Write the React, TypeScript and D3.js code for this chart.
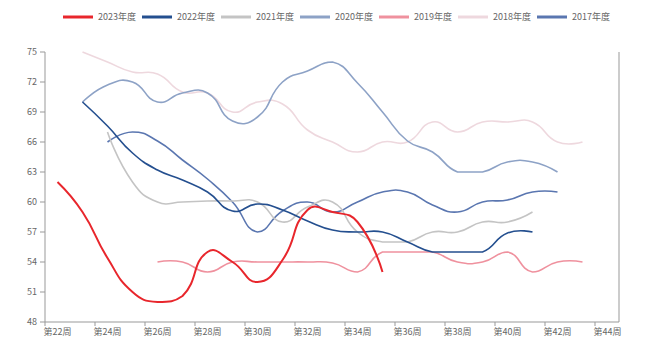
import React from "react";
import * as d3 from "d3";

const weeks: number[] = d3.range(22, 45);
const weekLabels: string[] = weeks.map((w) => `第${w}周`);
const yTicks: number[] = [48, 51, 54, 57, 60, 63, 66, 69, 72, 75];

const seriesNames: string[] = ["2023年度", "2022年度", "2021年度", "2020年度", "2019年度", "2018年度", "2017年度"];
const seriesColors: string[] = ["#e8262c", "#244f8f", "#c4c4c4", "#8da2c6", "#ef919e", "#eed8de", "#5a76b0"];

// values start at the given week
const s2023Start = 22;
const s2023: number[] = [62, 59, 54.4, 51.0, 50.0, 50.6, 55.0, 54.0, 52.0, 54.2, 59.2, 59.0, 58.0, 53.0];
const s2022Start = 23;
const s2022: number[] = [70, 67.6, 64.9, 63.2, 62.2, 61.0, 59.1, 59.8, 59.2, 58.1, 57.2, 57.0, 57.0, 56.0, 55.0, 55.0, 55.0, 56.9, 57.0];
const s2021Start = 24;
const s2021: number[] = [67.0, 62.0, 60.0, 60.0, 60.1, 60.1, 60.0, 58.0, 59.5, 60.0, 57.0, 56.0, 56.0, 57.0, 57.0, 58.0, 58.0, 59.0];
const s2020Start = 23;
const s2020: number[] = [70, 71.7, 72.0, 70.0, 70.9, 70.9, 68.1, 68.5, 72.0, 73.1, 74.0, 71.9, 69.0, 66.1, 65.0, 63.0, 63.0, 64.0, 64.0, 63.0];
const s2019Start = 26;
const s2019: number[] = [54.0, 54.0, 53.0, 54.0, 54.0, 54.0, 54.0, 53.9, 53.0, 55.0, 55.0, 55.0, 54.0, 54.0, 55.0, 53.0, 54.0, 54.0];
const s2018Start = 23;
const s2018: number[] = [75, 74.0, 73.0, 72.8, 71.0, 70.9, 69.0, 70.0, 69.8, 67.2, 66.0, 65.0, 66.0, 66.0, 68.0, 67.0, 68.0, 68.0, 68.0, 66.0, 66.0];
const s2017Start = 24;
const s2017: number[] = [66.0, 67.0, 66.1, 64.2, 62.3, 60.0, 57.0, 59.1, 60.0, 59.0, 60.0, 61.0, 61.0, 59.7, 59.0, 60.0, 60.2, 61.0, 61.0];

const seriesData: number[][] = [s2023, s2022, s2021, s2020, s2019, s2018, s2017];
const seriesStarts: number[] = [s2023Start, s2022Start, s2021Start, s2020Start, s2019Start, s2018Start, s2017Start];

// ECharts-style smooth bezier (smooth = 0.5, control points clamped to series bounding box)
function smoothPath(pts: [number, number][], smooth = 0.5): string {
  const p = d3.path();
  const n = pts.length;
  const minX = d3.min(pts, (d) => d[0]) as number;
  const maxX = d3.max(pts, (d) => d[0]) as number;
  const minY = d3.min(pts, (d) => d[1]) as number;
  const maxY = d3.max(pts, (d) => d[1]) as number;
  const cx = (v: number) => Math.max(minX, Math.min(maxX, v));
  const cy = (v: number) => Math.max(minY, Math.min(maxY, v));
  let cp0x = pts[0][0], cp0y = pts[0][1];
  p.moveTo(pts[0][0], pts[0][1]);
  for (let i = 1; i < n; i++) {
    const [x, y] = pts[i];
    const [px, py] = pts[i - 1];
    let cp1x = x, cp1y = y;
    let vx = 0, vy = 0, ratio = 0.5;
    if (i < n - 1) {
      const [nx, ny] = pts[i + 1];
      vx = nx - px;
      vy = ny - py;
      const lenPrev = Math.hypot(x - px, y - py);
      const lenNext = Math.hypot(nx - x, ny - y);
      ratio = lenNext / (lenNext + lenPrev);
      cp1x = x - vx * smooth * (1 - ratio);
      cp1y = y - vy * smooth * (1 - ratio);
    }
    p.bezierCurveTo(cx(cp0x), cy(cp0y), cx(cp1x), cy(cp1y), x, y);
    cp0x = x + vx * smooth * ratio;
    cp0y = y + vy * smooth * ratio;
  }
  return p.toString();
}

export default function App() {
  const W = 645;
  const H = 344;
  const left = 45;
  const right = 620;
  const top = 52;
  const bottom = 322;

  const x = d3.scaleBand<number>().domain(weeks).range([left, right]).paddingInner(0).paddingOuter(0);
  const y = d3.scaleLinear().domain([48, 75]).range([bottom, top]);
  const cx = (w: number) => (x(w) as number) + x.bandwidth() / 2;

  const font = "'Noto Sans CJK SC', 'Noto Sans', sans-serif";
  const axisColor = "#999";
  const textColor = "#666";

  const drawOrder = [6, 5, 4, 3, 2, 1, 0];

  return (
    <svg width={W} height={H} style={{ position: "absolute", left: 0, top: 0 }} fontFamily={font}>
      {/* legend */}
      {seriesNames.map((n, i) => {
        const lx = 63 + i * 79;
        return (
          <g key={n}>
            <line x1={lx} x2={lx + 30} y1={17} y2={17} stroke={seriesColors[i]} strokeWidth={3} />
            <text x={lx + 35} y={17} dy="0.35em" fontSize={9} fill={textColor}>
              {n}
            </text>
          </g>
        );
      })}

      {/* y axis */}
      <line x1={left} x2={left} y1={top} y2={bottom} stroke={axisColor} />
      {yTicks.map((t) => (
        <g key={t}>
          <line x1={left - 5} x2={left} y1={y(t)} y2={y(t)} stroke={axisColor} />
          <text x={left - 8} y={y(t)} dy="0.35em" textAnchor="end" fontSize={9} fill={textColor}>
            {t}
          </text>
        </g>
      ))}

      {/* x axis */}
      <line x1={left} x2={right - 1} y1={bottom} y2={bottom} stroke={axisColor} />
      <line x1={right - 1} x2={right - 1} y1={top} y2={bottom} stroke={axisColor} />
      {weeks.map((w, i) =>
        i % 2 === 0 ? (
          <g key={w}>
            <line x1={x(w) as number} x2={x(w) as number} y1={bottom} y2={bottom + 4} stroke={axisColor} />
            <text x={cx(w)} y={bottom + 10} dy="0.35em" textAnchor="middle" fontSize={9} fill={textColor}>
              {weekLabels[i]}
            </text>
          </g>
        ) : null
      )}

      {/* series */}
      {drawOrder.map((i) => {
        const pts: [number, number][] = seriesData[i].map((v, k) => [cx(seriesStarts[i] + k), y(v)]);
        return (
          <path
            key={seriesNames[i]}
            d={smoothPath(pts)}
            fill="none"
            stroke={seriesColors[i]}
            strokeWidth={i === 0 ? 2 : 1.6}
          />
        );
      })}
    </svg>
  );
}
